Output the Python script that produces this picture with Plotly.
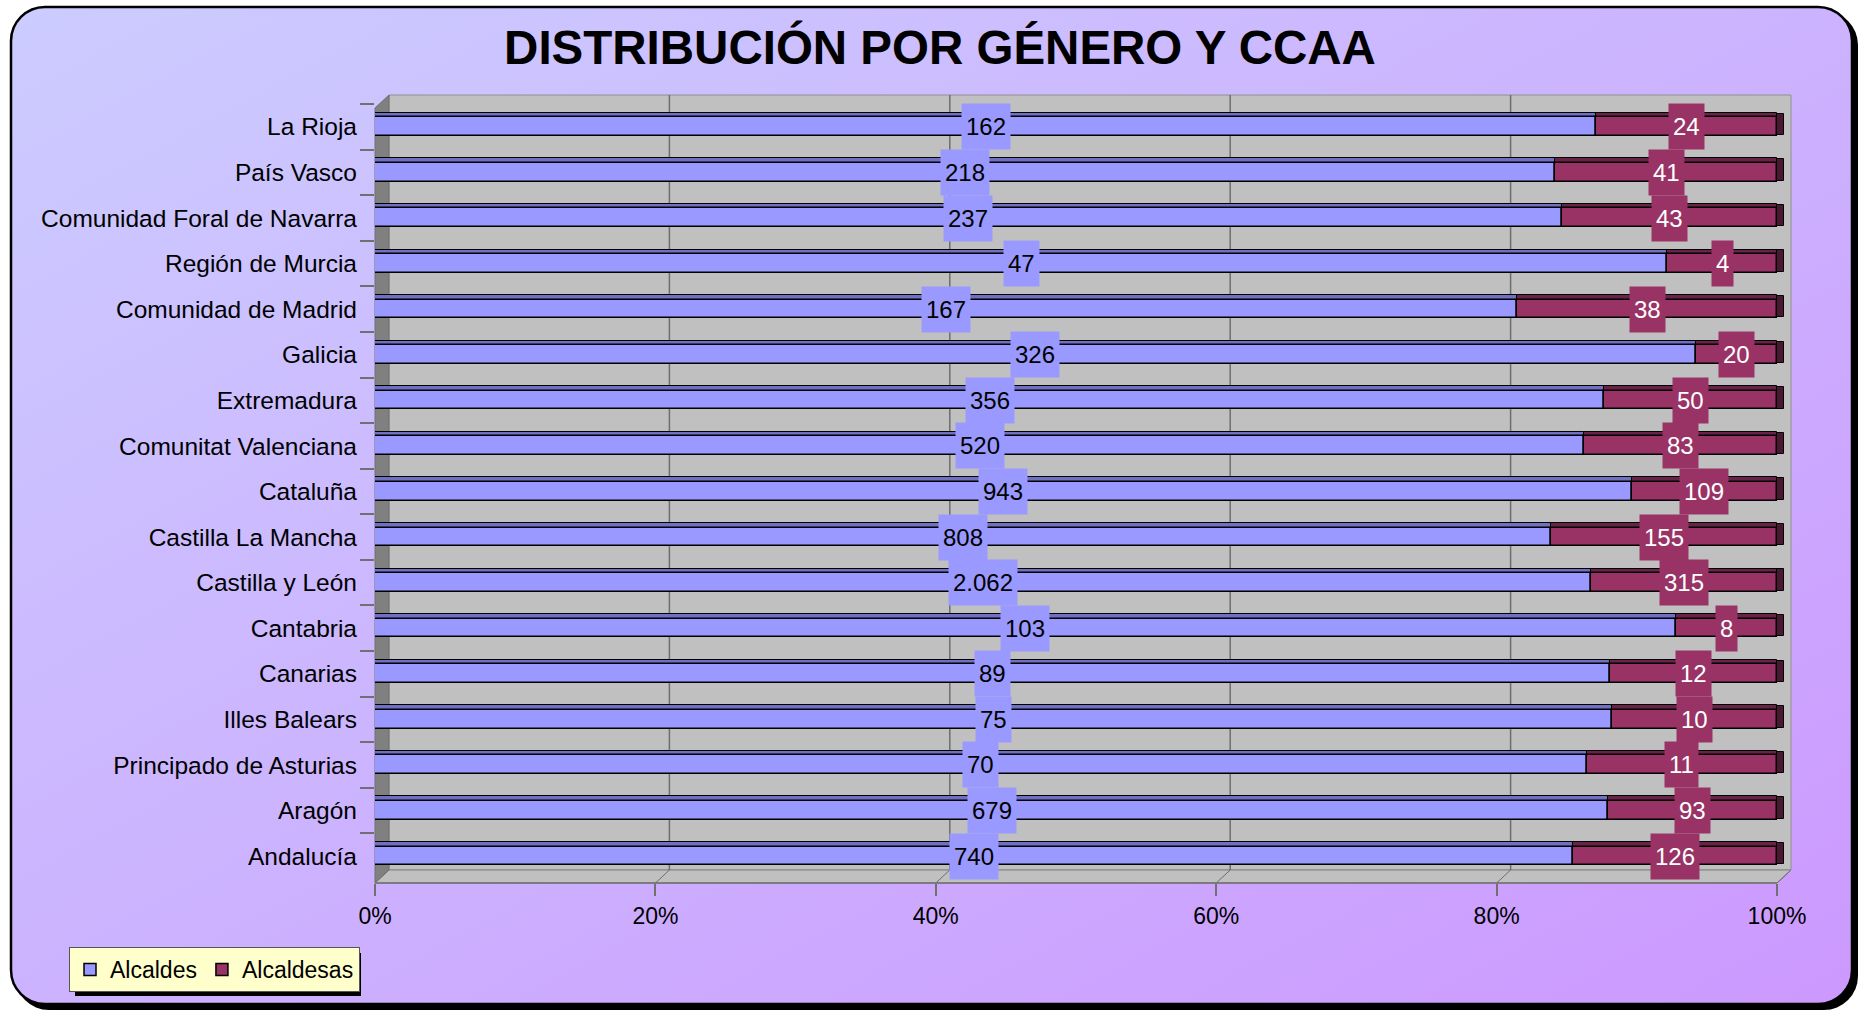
import base64
import plotly.graph_objects as go

# ---------------- data ----------------
regions = [
    "La Rioja", "País Vasco", "Comunidad Foral de Navarra", "Región de Murcia",
    "Comunidad de Madrid", "Galicia", "Extremadura", "Comunitat Valenciana",
    "Cataluña", "Castilla La Mancha", "Castilla y León", "Cantabria",
    "Canarias", "Illes Balears", "Principado de Asturias", "Aragón", "Andalucía",
]
alcaldes = [162, 218, 237, 47, 167, 326, 356, 520, 943, 808, 2062, 103, 89, 75, 70, 679, 740]
alcaldesas = [24, 41, 43, 4, 38, 20, 50, 83, 109, 155, 315, 8, 12, 10, 11, 93, 126]
series_names = ["Alcaldes", "Alcaldesas"]
x_tick_vals = [0, 0.2, 0.4, 0.6, 0.8, 1.0]
x_tick_text = ["0%", "20%", "40%", "60%", "80%", "100%"]
title_text = "DISTRIBUCIÓN POR GÉNERO Y CCAA"

totals = [m + f for m, f in zip(alcaldes, alcaldesas)]
share_m = [m / t for m, t in zip(alcaldes, totals)]
share_f = [f / t for f, t in zip(alcaldesas, totals)]

def fmt(v):
    return f"{v:,}".replace(",", ".")

# ---------------- geometry / style ----------------
W, H = 1863, 1015
L, R, T, B = 375, 72, 95, 132
PW, PH = W - L - R, H - T - B
UNIT = 1402.0                     # px for 100%
XMAX = (W - R - L) / UNIT
DX, DY = 14, 13                   # 3D depth offset (px)

def px(x):
    return (x - L) / PW

def py(y):
    return 1 - (y - T) / PH

FONT = "Liberation Sans, Arial, sans-serif"
C_M, C_M_TOP = "#9999FF", "#6F6FC4"
C_F, C_F_TOP = "#993366", "#6A2348"
C_F_SIDE = "#4A1830"

n = len(regions)
fig = go.Figure()

# top (3D) faces
fig.add_trace(go.Bar(y=regions, x=share_m, base=[0] * n, orientation="h",
                     offset=-0.31, width=0.1, marker=dict(color=C_M_TOP, line=dict(color="black", width=1)),
                     showlegend=False, hoverinfo="skip"))
fig.add_trace(go.Bar(y=regions, x=share_f, base=share_m, orientation="h",
                     offset=-0.31, width=0.1, marker=dict(color=C_F_TOP, line=dict(color="black", width=1)),
                     showlegend=False, hoverinfo="skip"))
# right end (3D side) face
fig.add_trace(go.Bar(y=regions, x=[0.005] * n, base=[s_m + s_f for s_m, s_f in zip(share_m, share_f)],
                     orientation="h", offset=-0.29, width=0.47,
                     marker=dict(color=C_F_SIDE, line=dict(color="black", width=1)),
                     showlegend=False, hoverinfo="skip"))
# front faces
fig.add_trace(go.Bar(y=regions, x=share_m, base=[0] * n, orientation="h", name=series_names[0],
                     offset=-0.21, width=0.41, marker=dict(color=C_M, line=dict(color="black", width=1.5))))
fig.add_trace(go.Bar(y=regions, x=share_f, base=share_m, orientation="h", name=series_names[1],
                     offset=-0.21, width=0.41, marker=dict(color=C_F, line=dict(color="black", width=1.5))))

# data labels
annotations = []
for reg, m, f, sm, sf in zip(regions, alcaldes, alcaldesas, share_m, share_f):
    annotations.append(dict(x=sm / 2, y=reg, xref="x", yref="y", text=fmt(m), showarrow=False,
                            bgcolor=C_M, borderpad=4, height=37,
                            font=dict(family=FONT, size=24, color="black")))
    annotations.append(dict(x=sm + sf / 2, y=reg, xref="x", yref="y", text=fmt(f), showarrow=False,
                            bgcolor=C_F, borderpad=4, height=37,
                            font=dict(family=FONT, size=24, color="white")))

# background (gradient rounded frame)
svg = f'''<svg xmlns="http://www.w3.org/2000/svg" width="{W}" height="{H}" viewBox="0 0 {W} {H}" preserveAspectRatio="none">
<defs><linearGradient id="g" x1="0" y1="0" x2="1" y2="1">
<stop offset="0" stop-color="#CCCCFF"/><stop offset="1" stop-color="#CC99FF"/></linearGradient></defs>
<rect x="15" y="11" width="1843" height="999" rx="34" ry="34" fill="#000"/>
<rect x="11" y="7" width="1841" height="997" rx="34" ry="34" fill="url(#g)" stroke="#000" stroke-width="2.5"/>
</svg>'''
src = "data:image/svg+xml;base64," + base64.b64encode(svg.encode()).decode()

shapes = []
back_l, back_r, back_t, back_b = L + DX, L + DX + UNIT, T, T + (H - B - T) - DY
front_b = H - B
# back wall
shapes.append(dict(type="rect", xref="paper", yref="paper", layer="below",
                   x0=px(back_l), x1=px(back_r), y0=py(back_b), y1=py(back_t),
                   fillcolor="#C0C0C0", line=dict(color="#909090", width=1)))
# left wall
shapes.append(dict(type="path", xref="paper", yref="paper", layer="below",
                   path=f"M{px(L)},{py(T + DY)} L{px(back_l)},{py(T)} L{px(back_l)},{py(back_b)} L{px(L)},{py(front_b)} Z",
                   fillcolor="#808080", line=dict(color="#707070", width=1)))
# floor
shapes.append(dict(type="path", xref="paper", yref="paper", layer="below",
                   path=f"M{px(L)},{py(front_b)} L{px(back_l)},{py(back_b)} L{px(back_r)},{py(back_b)} L{px(L + UNIT)},{py(front_b)} Z",
                   fillcolor="#C0C0C0", line=dict(color="#808080", width=1)))
# gridlines on back wall + floor diagonals
for v in x_tick_vals:
    xb = L + DX + v * UNIT
    xf = L + v * UNIT
    if 0 < v < 1:
        shapes.append(dict(type="line", xref="paper", yref="paper", layer="below",
                           x0=px(xb), x1=px(xb), y0=py(back_b), y1=py(back_t),
                           line=dict(color="#6E6E6E", width=1.5)))
    shapes.append(dict(type="line", xref="paper", yref="paper", layer="below",
                       x0=px(xf), x1=px(xb), y0=py(front_b), y1=py(back_b),
                       line=dict(color="#6E6E6E", width=1)))
# front bottom axis line
shapes.append(dict(type="line", xref="paper", yref="paper", layer="below",
                   x0=px(L), x1=px(L + UNIT), y0=py(front_b), y1=py(front_b),
                   line=dict(color="#707070", width=1.5)))
# legend shadow
shapes.append(dict(type="rect", xref="paper", yref="paper", layer="below",
                   x0=px(75), x1=px(361), y0=py(996), y1=py(953),
                   fillcolor="black", line=dict(width=0)))

fig.update_layout(
    width=W, height=H,
    margin=dict(l=L, r=R, t=T, b=B, pad=0),
    paper_bgcolor="white", plot_bgcolor="rgba(0,0,0,0)",
    barmode="overlay", bargap=0,
    font=dict(family=FONT, size=23, color="black"),
    title=dict(text=f"<b>{title_text}</b>", x=940 / W, y=1 - 47.5 / H, xref="container", yref="container",
               xanchor="center", yanchor="middle", font=dict(family=FONT, size=47.5, color="black")),
    xaxis=dict(range=[0, XMAX], tickvals=x_tick_vals, ticktext=x_tick_text, showgrid=False,
               zeroline=False, showline=False, ticks="outside", ticklen=12, tickcolor="#707070",
               tickwidth=1.5, tickfont=dict(size=23), fixedrange=True),
    yaxis=dict(categoryorder="array", categoryarray=regions, range=[16 + 0.59, -0.70],
               showgrid=False, zeroline=False, showline=False, ticks="outside", tickson="boundaries",
               ticklen=14, tickcolor="#707070", tickwidth=1.5, tickfont=dict(size=24.5),
               ticklabelstandoff=17, fixedrange=True),
    legend=dict(orientation="h", x=px(69), y=py(947), xanchor="left", yanchor="top",
                bgcolor="#FFFFCC", bordercolor="#555555", borderwidth=1,
                font=dict(family=FONT, size=23, color="black"), traceorder="normal"),
    annotations=annotations,
    shapes=shapes,
    images=[dict(source=src, xref="paper", yref="paper", x=px(0), y=py(0), sizex=W / PW, sizey=H / PH,
                 xanchor="left", yanchor="top", sizing="stretch", layer="below")],
)

fig.write_html("out.html", config={"displayModeBar": False},
               post_script="document.body.style.margin='0';document.body.style.overflow='hidden';")
